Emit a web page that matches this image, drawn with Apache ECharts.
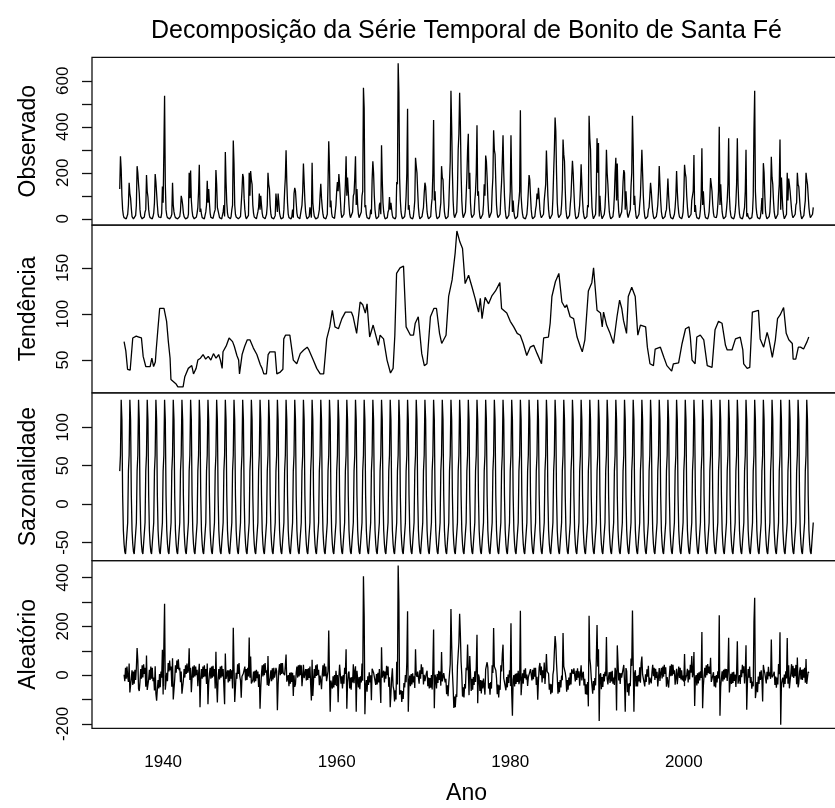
<!DOCTYPE html>
<html>
<head>
<meta charset="utf-8">
<script src="https://cdn.jsdelivr.net/npm/echarts@6/dist/echarts.min.js"></script>
<style>
html,body{margin:0;padding:0;background:#fff;}
#chart{width:835px;height:808px;}
</style>
</head>
<body>
<div id="chart"></div>
<script>
// ---------- DATA ----------
const tituloTexto = 'Decomposição da Série Temporal de Bonito de Santa Fé';
const nomesPaineis = ['Observado', 'Tendência', 'Sazonalidade', 'Aleatório'];
const nomeEixoX = 'Ano';
const anoInicial = 1935;          // Jan 1935, monthly series
const anosTicks = [1940, 1960, 1980, 2000];

// Observed monthly values, one row per year (Jan..Dec)
const observado = [
/*1935*/130,272,215,100,40,15,5,0,0,0,5,20,
/*1936*/60,157,110,90,45,10,3,0,0,2,15,60,
/*1937*/229,200,150,110,40,12,4,0,0,0,8,30,
/*1938*/40,190,120,95,40,15,5,0,0,0,10,25,
/*1939*/70,195,160,110,60,20,8,2,0,5,25,140,
/*1940*/70,290,535,150,40,15,5,0,0,0,5,10,
/*1941*/20,157,60,30,15,5,2,0,0,0,3,10,
/*1942*/35,100,85,60,25,10,3,0,0,0,5,20,
/*1943*/200,90,210,80,35,12,5,0,0,0,8,25,
/*1944*/50,120,235,30,45,20,5,0,0,0,5,30,
/*1945*/60,165,70,130,70,25,6,0,0,2,8,30,
/*1946*/40,212,150,50,50,20,5,0,0,0,5,30,
/*1947*/60,10,290,160,70,25,8,0,0,0,10,40,
/*1948*/60,340,240,60,20,8,2,0,0,0,3,10,
/*1949*/10,120,195,180,90,40,10,0,0,5,15,200,
/*1950*/100,208,170,150,60,25,8,0,0,0,5,30,
/*1951*/50,110,40,100,60,25,8,0,0,0,5,20,
/*1952*/60,200,150,130,60,20,5,0,0,0,5,15,
/*1953*/110,118,30,110,70,25,10,0,0,0,5,40,
/*1954*/120,180,298,160,70,20,5,0,0,0,10,40,
/*1955*/5,110,135,120,70,25,8,0,0,0,5,40,
/*1956*/60,120,240,160,80,30,10,0,0,0,10,50,
/*1957*/50,5,244,70,35,12,4,0,0,0,5,20,
/*1958*/40,100,152,90,50,20,5,0,0,0,5,20,
/*1959*/150,337,230,50,80,25,8,0,0,2,10,60,
/*1960*/120,160,120,195,150,90,30,5,0,5,20,80,
/*1961*/150,272,100,180,120,60,20,5,0,5,30,100,
/*1962*/110,180,272,60,130,60,20,5,0,5,30,100,
/*1963*/120,570,480,50,60,20,5,0,0,0,10,40,
/*1964*/20,170,250,200,100,40,10,0,0,0,10,60,
/*1965*/70,20,320,170,70,30,10,0,0,0,5,30,
/*1966*/40,95,40,70,40,15,5,0,0,0,10,160,
/*1967*/150,676,548,180,80,30,10,0,0,0,10,40,
/*1968*/100,200,478,40,60,20,5,0,0,0,10,40,
/*1969*/80,265,230,200,120,50,15,0,0,0,10,30,
/*1970*/50,110,157,140,80,30,10,0,0,0,10,60,
/*1971*/90,200,429,80,120,40,10,0,0,0,10,40,
/*1972*/70,229,180,170,90,30,10,0,0,0,10,60,
/*1973*/160,250,557,400,200,80,20,5,0,5,30,130,
/*1974*/300,370,548,420,200,80,25,5,0,5,30,100,
/*1975*/180,300,370,130,200,70,20,5,0,5,20,80,
/*1976*/120,200,407,100,120,40,10,0,0,5,20,60,
/*1977*/150,100,275,250,180,90,30,5,0,10,30,120,
/*1978*/180,385,300,280,160,60,20,5,0,5,20,100,
/*1979*/160,250,363,200,100,40,10,0,0,5,15,60,
/*1980*/120,363,150,30,80,30,10,0,0,0,10,50,
/*1981*/80,120,472,100,50,20,5,0,0,0,5,20,
/*1982*/60,120,190,170,100,40,10,0,0,0,10,40,
/*1983*/60,110,85,135,90,40,15,5,0,5,20,80,
/*1984*/80,150,297,200,100,40,10,0,0,5,20,90,
/*1985*/200,300,440,380,200,70,20,5,0,5,20,60,
/*1986*/130,345,280,250,130,40,10,0,0,0,15,60,
/*1987*/100,180,252,200,120,50,15,0,0,0,10,30,
/*1988*/60,130,237,150,80,30,10,0,0,0,10,60,
/*1989*/50,448,350,300,140,50,15,0,0,5,20,120,
/*1990*/350,200,330,10,100,40,15,0,0,5,20,50,
/*1991*/120,300,200,150,80,30,10,0,0,0,10,40,
/*1992*/100,200,265,80,240,90,30,5,0,5,30,80,
/*1993*/160,212,200,40,120,60,20,5,0,10,40,140,
/*1994*/200,448,300,60,100,40,10,0,0,0,20,60,
/*1995*/100,200,300,200,100,40,10,0,0,0,10,40,
/*1996*/50,100,157,120,70,30,10,0,0,0,10,30,
/*1997*/60,120,229,150,80,30,10,0,0,0,10,30,
/*1998*/40,100,175,100,50,20,5,0,0,0,10,20,
/*1999*/50,100,208,120,60,25,8,0,0,0,10,30,
/*2000*/100,235,200,180,100,50,15,5,0,5,20,80,
/*2001*/80,120,277,30,60,20,5,0,0,0,10,40,
/*2002*/100,307,60,120,60,20,5,0,0,0,10,30,
/*2003*/90,177,150,120,60,25,8,0,0,5,20,60,
/*2004*/120,400,60,150,80,30,10,0,0,0,10,40,
/*2005*/80,150,350,100,40,15,5,0,0,0,10,30,
/*2006*/70,150,350,150,60,20,5,0,0,0,10,30,
/*2007*/50,120,300,10,25,10,3,0,0,0,5,30,
/*2008*/100,385,557,120,50,20,5,0,0,0,10,40,
/*2009*/90,20,242,200,100,30,10,0,0,0,10,30,
/*2010*/100,270,180,150,80,30,10,0,0,0,20,100,
/*2011*/150,345,40,180,100,40,15,0,0,5,20,200,
/*2012*/80,175,150,120,80,40,15,5,0,5,20,60,
/*2013*/70,200,150,140,90,40,15,0,0,0,15,50,
/*2014*/80,200,170,150,100,50,20,5,0,5,20,50
];

// Trend: [year, value] points
const tendencia = [
[1935.5,70],[1935.7,60],[1935.8,50],[1935.9,40],[1936.2,39],[1936.4,40],[1936.5,74],[1936.9,76],[1937.2,75],[1937.5,74],
[1937.7,54],[1938.0,43],[1938.5,43],[1938.7,52],[1938.9,43],[1939.1,48],[1939.2,61],[1939.4,84],[1939.6,106],[1940.1,106],
[1940.4,92],[1940.6,70],[1940.8,52],[1940.9,29],[1941.1,27],[1941.5,24],[1941.7,21],[1942.3,21],[1942.5,32],[1942.9,41],
[1943.3,44],[1943.5,35],[1943.8,41],[1944.0,50],[1944.3,52],[1944.6,56],[1944.9,51],[1945.2,54],[1945.5,50],[1945.8,57],
[1946.1,52],[1946.4,56],[1946.6,50],[1946.8,41],[1946.9,59],[1947.3,66],[1947.6,74],[1948.0,70],[1948.2,65],[1948.5,55],
[1948.7,50],[1948.8,35],[1949.1,56],[1949.4,65],[1949.7,72],[1950.0,72],[1950.4,63],[1950.8,56],[1951.2,45],[1951.4,41],
[1951.6,35],[1951.9,35],[1952.1,56],[1952.3,59],[1952.9,59],[1953.1,35],[1953.5,37],[1953.8,40],[1953.9,73],[1954.1,77],
[1954.6,77],[1955.0,50],[1955.4,46],[1955.8,57],[1956.2,61],[1956.6,64],[1956.8,61],[1957.3,50],[1957.7,41],[1958.1,35],
[1958.5,35],[1958.85,73],[1959.2,86],[1959.5,104],[1959.8,86],[1960.2,84],[1960.6,95],[1961.0,102],[1961.7,102],[1961.9,97],
[1962.3,79],[1962.7,113],[1963.0,110],[1963.3,101],[1963.5,111],[1963.8,75],[1964.2,88],[1964.5,77],[1964.8,66],[1965.0,77],
[1965.4,73],[1965.8,50],[1966.2,36],[1966.5,41],[1966.7,77],[1966.9,144],[1967.3,150],[1967.7,152],[1967.9,150],[1968.0,86],
[1968.5,77],[1968.85,77],[1969.05,90],[1969.4,97],[1969.8,57],[1970.1,44],[1970.4,46],[1970.8,97],[1971.2,106],[1971.5,106],
[1971.85,79],[1972.1,68],[1972.3,66],[1972.6,77],[1972.9,119],[1973.3,137],[1973.5,139],[1973.65,166],[1973.85,190],[1974.2,178],
[1974.5,171],[1974.8,133],[1975.2,142],[1975.6,129],[1975.95,117],[1976.35,102],[1976.55,117],[1976.75,95],[1977.1,118],[1977.5,111],
[1977.9,120],[1978.3,125],[1978.8,134],[1979.0,106],[1979.6,101],[1980.0,92],[1980.4,86],[1980.8,79],[1981.15,77],[1981.5,68],
[1981.9,55],[1982.3,64],[1982.7,66],[1983.1,57],[1983.6,46],[1983.85,74],[1984.4,75],[1984.6,90],[1984.8,119],[1985.2,135],
[1985.6,144],[1985.95,113],[1986.3,107],[1986.5,110],[1986.9,97],[1987.3,95],[1987.7,75],[1988.1,64],[1988.3,59],[1988.45,61],
[1988.6,72],[1989.0,125],[1989.4,134],[1989.6,150],[1990.0,104],[1990.4,101],[1990.6,86],[1990.75,102],[1991.1,88],[1991.5,79],
[1991.9,68],[1992.3,97],[1992.6,115],[1992.85,106],[1993.05,93],[1993.4,79],[1993.6,119],[1994.0,129],[1994.4,119],[1994.7,77],
[1995.0,88],[1995.6,86],[1995.8,64],[1996.1,46],[1996.5,44],[1996.7,62],[1997.3,64],[1997.7,53],[1998.05,44],[1998.6,38],
[1998.8,46],[1999.4,47],[1999.8,68],[2000.2,84],[2000.6,86],[2000.75,75],[2000.95,50],[2001.3,46],[2001.5,75],[2001.9,77],
[2002.3,72],[2002.7,44],[2003.25,42],[2003.6,83],[2004.0,92],[2004.4,90],[2004.8,66],[2005.0,61],[2005.55,61],[2005.95,73],
[2006.5,75],[2006.8,61],[2006.9,46],[2007.3,41],[2007.6,42],[2007.9,102],[2008.1,104],[2008.6,104],[2008.8,73],[2009.2,64],
[2009.6,80],[2009.8,73],[2010.2,53],[2010.55,72],[2010.8,95],[2011.1,99],[2011.5,107],[2011.8,79],[2012.1,72],[2012.5,68],
[2012.6,51],[2012.9,51],[2013.2,64],[2013.45,64],[2013.8,62],[2014.2,70],[2014.4,75]
];

// Seasonal figure: one value per month (Jan..Dec), repeated every year
const sazonalMeses = [43, 64, 136, 110, 12, -34, -52, -62, -65, -65, -63, -24];

// Remainder, monthly from Jul 1935 to Jun 2014
const inicioAleatorio = 1935.5;
const aleatorio = [
/*1935*/2,-25,30,-15,35,-6,
/*1936*/-28,48,-71,-65,-12,20,-40,15,-35,22,-20,30,
/*1937*/111,61,-56,-65,-27,25,-15,40,-10,45,5,30,
/*1938*/-48,81,-61,-60,-17,22,-20,35,-15,30,-25,-10,
/*1939*/-63,36,-76,-105,-58,-20,-55,5,-50,15,-10,104,
/*1940*/-79,120,293,-60,-64,10,-25,50,15,60,20,35,
/*1941*/-48,69,-100,-102,-18,40,10,60,25,65,20,30,
/*1942*/-29,15,-76,-80,-22,25,-10,40,5,48,10,20,
/*1943*/110,-20,30,-70,-13,35,-10,40,-5,35,0,22,
/*1944*/-45,4,47,-132,-19,25,-15,35,-8,40,-5,25,
/*1945*/-36,48,-119,-33,5,30,-15,35,-10,38,-5,25,
/*1946*/-55,96,-38,-112,-14,25,-18,35,-10,38,-5,25,
/*1947*/-48,-119,89,-15,-7,20,-30,20,-25,25,-15,20,
/*1948*/-55,194,32,-110,-52,10,-15,45,5,50,-5,-22,
/*1949*/-93,-6,-3,8,16,35,-22,25,-20,30,-5,154,
/*1950*/-11,76,-34,-28,-20,15,-30,18,-25,22,-12,15,
/*1951*/-48,4,-138,-52,6,40,-5,45,0,50,10,20,
/*1952*/-41,78,-44,-38,-10,20,-25,28,-18,30,-10,5,
/*1953*/30,16,-144,-38,20,45,0,50,5,50,10,15,
/*1954*/0,39,85,-27,-19,0,-45,10,-35,12,-28,10,
/*1955*/-85,-1,-48,-37,11,35,-10,40,-5,42,0,40,
/*1956*/-45,-6,42,-12,6,25,-22,25,-20,28,-12,35,
/*1957*/-38,-104,63,-85,-22,25,-12,40,-3,45,0,22,
/*1958*/-41,-2,-22,-58,0,40,-5,48,-4,35,-25,-5,
/*1959*/17,183,4,-150,-22,-15,-55,-5,-50,0,-40,18,
/*1960*/-18,1,-111,-10,43,50,-35,-5,-55,0,-35,30,
/*1961*/5,106,-138,-32,6,15,-55,-10,-60,-8,-30,45,
/*1962*/-33,16,36,-150,18,18,-50,-8,-58,-5,-30,48,
/*1963*/-23,406,244,-160,-52,-20,-68,-5,-40,12,-30,0,
/*1964*/-103,26,34,10,8,18,-40,5,-38,10,-30,25,
/*1965*/-43,-114,114,-10,-12,18,-30,15,-15,38,0,35,
/*1966*/-48,-9,-132,-76,-12,28,-45,-60,-108,-62,-100,55,
/*1967*/-38,450,300,-80,-82,-62,-110,-65,-98,-32,-50,0,
/*1968*/-29,56,262,-150,-32,-2,-45,5,-38,8,-30,-5,
/*1969*/-53,106,2,-7,15,18,-35,20,-15,45,5,32,
/*1970*/-38,1,-25,-20,8,18,-45,-10,-55,-12,-52,0,
/*1971*/-59,30,187,-136,2,-10,-55,5,-32,18,-20,15,
/*1972*/-43,95,-26,-10,8,16,-30,-15,-78,-42,-86,-32,
/*1973*/-33,46,271,124,13,-52,-135,-88,-132,-78,-90,36,
/*1974*/86,135,252,170,55,0,-88,-50,-92,-36,-55,30,
/*1975*/20,126,129,-82,78,10,-65,-15,-60,-8,-40,16,
/*1976*/-28,31,166,-115,3,-8,-65,-20,-75,-22,-55,-14,
/*1977*/-8,-80,24,25,53,32,-55,-32,-80,-28,-55,40,
/*1978*/9,193,36,42,20,-12,-78,-38,-92,-42,-60,40,
/*1979*/15,84,125,-12,-14,-5,-62,-8,-50,2,-32,20,
/*1980*/-9,213,-72,-166,-18,0,-46,6,-36,8,-28,18,
/*1981*/-37,-20,264,-82,-34,8,-35,22,-12,28,-18,2,
/*1982*/-44,-8,-9,-3,25,33,-22,22,-17,30,-6,30,
/*1983*/-40,-7,-101,-22,32,50,0,35,-30,20,-12,52,
/*1984*/-36,11,87,15,13,6,-60,-35,-78,-38,-72,2,
/*1985*/22,96,160,126,48,-8,-76,-28,-70,-20,-50,-2,
/*1986*/-21,173,36,32,10,-12,-68,-20,-60,-10,-42,10,
/*1987*/-38,24,28,5,28,30,-26,18,-20,28,-10,16,
/*1988*/-43,4,40,-22,4,14,-42,-15,-78,-38,-80,-28,
/*1989*/-128,244,69,40,-10,-12,-76,-24,-62,-12,-42,64,
/*1990*/206,35,106,-188,-1,8,-58,-8,-48,5,-26,14,
/*1991*/-4,156,-14,-38,-6,12,-32,14,-26,18,-35,-10,
/*1992*/-40,30,14,-145,122,52,-22,10,-36,8,-10,8,
/*1993*/2,42,-29,-150,29,16,-70,-34,-84,-32,-45,68,
/*1994*/38,265,49,-150,8,20,-46,-4,-46,0,-26,32,
/*1995*/-31,48,76,3,2,10,-46,4,-28,24,-6,38,
/*1996*/-39,-10,-24,-34,14,42,-4,30,-20,26,-12,14,
/*1997*/-46,-8,29,-24,8,30,-14,35,-6,42,5,32,
/*1998*/-47,-8,-3,-51,-2,38,-4,45,-2,42,4,20,
/*1999*/-39,-10,26,-37,1,35,-12,30,-18,20,-22,-2,
/*2000*/-27,87,-22,-16,2,26,-30,20,-18,42,10,78,
/*2001*/-9,10,95,-126,-12,0,-42,8,-34,12,-22,16,
/*2002*/-11,177,-136,-45,-2,30,-10,40,0,46,8,35,
/*2003*/5,71,-28,-32,-2,12,-46,-4,-50,0,-30,16,
/*2004*/-13,246,-166,-48,-12,16,-26,22,-18,26,-10,25,
/*2005*/-24,25,153,-71,-34,6,-36,12,-32,14,-24,2,
/*2006*/-48,11,139,-35,-27,0,-36,22,-8,42,8,36,
/*2007*/-34,15,123,-142,-29,25,-10,35,-32,-8,-56,-26,
/*2008*/-46,217,317,-94,-66,-28,-70,-6,-36,14,-20,20,
/*2009*/-17,-108,42,20,8,10,-34,14,-18,34,-4,12,
/*2010*/-15,146,-9,-15,3,14,-40,-6,-52,-10,-38,46,
/*2011*/4,176,-203,-37,-19,-10,-50,2,-36,16,-14,152,
/*2012*/-35,41,-54,-56,8,45,-6,38,-12,28,-4,42,
/*2013*/-37,72,-50,-34,14,32,-18,22,-20,24,-10,30,
/*2014*/-31,66,-36,-32,14,9
];

// Axis tick / label values
const ticksObs = [0,100,200,300,400,500,600];
const labelsObs = [0,200,400,600];
const ticksTend = [50,100,150];
const ticksSaz = [-50,0,50,100];
const ticksAle = [-200,-100,0,100,200,300,400];
const labelsAle = [-200,0,200,400];

// ---------- BUILD ----------
const serieObs = observado.map((v, i) => [anoInicial + i / 12, v]);
const serieSaz = observado.map((v, i) => [anoInicial + i / 12, sazonalMeses[i % 12]]);
const serieAle = aleatorio.map((v, i) => [inicioAleatorio + i / 12, v]);

const FONT = '"Liberation Sans", Arial, Helvetica, sans-serif';
const TXT = '#000';
const panelTop = 57.3, panelH = 167.75;
const yRanges = [[-27, 702], [14.5, 196.5], [-73.5, 145], [-218, 470]];
const yTicks = [ticksObs, ticksTend, ticksSaz, ticksAle];
const yLabels = [labelsObs, ticksTend, ticksSaz, labelsAle];
const plain = v => String(Math.round(v));

const grids = [], xAxes = [], yAxes = [];
for (let k = 0; k < 4; k++) {
  grids.push({left: 92, width: 749, top: panelTop + k * panelH, height: panelH,
    outerBoundsMode: 'none', containLabel: false,
    show: true, borderColor: '#111', borderWidth: 1.3, backgroundColor: 'transparent'});
  const last = k === 3;
  xAxes.push({
    type: 'value', gridIndex: k, min: 1931.803, max: 2018.113,
    axisLine: {show: false}, splitLine: {show: false},
    axisTick: {show: last, customValues: anosTicks, length: 11, inside: false, lineStyle: {color: '#111', width: 1.3}},
    axisLabel: {show: last, customValues: anosTicks, formatter: plain, margin: 26, fontSize: 17, fontFamily: FONT, color: TXT},
    name: last ? nomeEixoX : '', nameLocation: 'middle', nameGap: 54,
    nameTextStyle: {fontSize: 23, fontFamily: FONT, color: TXT}
  });
  yAxes.push({
    type: 'value', gridIndex: k, min: yRanges[k][0], max: yRanges[k][1],
    axisLine: {show: false}, splitLine: {show: false},
    axisTick: {show: true, customValues: yTicks[k], length: 10, inside: false, lineStyle: {color: '#111', width: 1.3}},
    axisLabel: {show: true, customValues: yLabels[k], formatter: plain, rotate: 90, margin: 20, fontSize: 17, fontFamily: FONT, color: TXT},
    name: nomesPaineis[k], nameLocation: 'middle', nameRotate: 90, nameGap: 52,
    nameTextStyle: {fontSize: 23, fontFamily: FONT, color: TXT}
  });
}

const lineBase = {type: 'line', symbol: 'none', showSymbol: false, animation: false,
  lineStyle: {color: '#000', width: 1.3}, emphasis: {disabled: true}, silent: true};

const chart = echarts.init(document.getElementById('chart'), null, {renderer: 'canvas'});
chart.setOption({
  animation: false,
  backgroundColor: '#fff',
  graphic: [{
    type: 'text', x: 466.5, y: 31,
    style: {text: tituloTexto, fontSize: 25, fontFamily: FONT, fill: TXT,
      align: 'center', verticalAlign: 'middle', textAlign: 'center', textVerticalAlign: 'middle'}
  }],
  grid: grids, xAxis: xAxes, yAxis: yAxes,
  series: [
    Object.assign({}, lineBase, {xAxisIndex: 0, yAxisIndex: 0, data: serieObs}),
    Object.assign({}, lineBase, {xAxisIndex: 1, yAxisIndex: 1, data: tendencia}),
    Object.assign({}, lineBase, {xAxisIndex: 2, yAxisIndex: 2, data: serieSaz}),
    Object.assign({}, lineBase, {xAxisIndex: 3, yAxisIndex: 3, data: serieAle})
  ]
});
</script>
</body>
</html>
